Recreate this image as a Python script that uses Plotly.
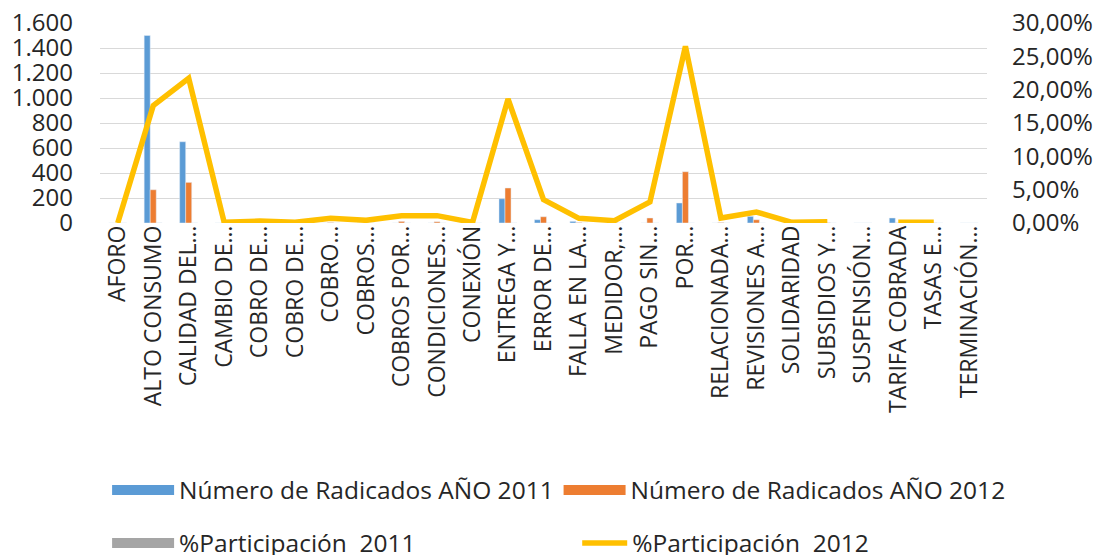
import plotly.graph_objects as go

categories = ["AFORO", "ALTO CONSUMO", "CALIDAD DEL…", "CAMBIO DE…", "COBRO DE…",
              "COBRO DE…", "COBRO…", "COBROS…", "COBROS POR…", "CONDICIONES…",
              "CONEXIÓN", "ENTREGA Y…", "ERROR DE…", "FALLA EN LA…", "MEDIDOR,…",
              "PAGO SIN…", "POR…", "RELACIONADA…", "REVISIONES A…", "SOLIDARIDAD",
              "SUBSIDIOS Y…", "SUSPENSIÓN…", "TARIFA COBRADA", "TASAS E…", "TERMINACIÓN…"]

radicados_2011 = [0, 1500, 650, 0, 0, 0, 0, 0, 0, 0, 0, 194, 26, 13, 0, 0, 160, 0, 53, 0, 0, 0, 40, 0, 0]
radicados_2012 = [0, 266, 325, 2, 4, 2, 4, 3, 13, 10, 1, 280, 50, 4, 3, 40, 410, 4, 26, 1, 2, 0, 1, 1, 0]
participacion_2011 = [0, 0.566, 0.245, 0, 0, 0, 0, 0, 0, 0, 0, 0.073, 0.010, 0.005, 0, 0, 0.060, 0, 0.020, 0, 0, 0, 0.015, 0, 0]
participacion_2012 = [0.0, 0.176, 0.217, 0.001, 0.003, 0.001, 0.007, 0.004, 0.011, 0.011, 0.001,
                      0.186, 0.035, 0.007, 0.0035, 0.0315, 0.265, 0.0075, 0.0165, 0.001, 0.002,
                      None, 0.001, 0.001, None]

series_names = ["Número de Radicados AÑO 2011", "Número de Radicados AÑO 2012",
                "%Participación  2011", "%Participación  2012"]
series_colors = ["#5B9BD5", "#ED7D31", "#A5A5A5", "#FFC000"]

left_ticks = [0, 200, 400, 600, 800, 1000, 1200, 1400, 1600]
right_ticks = [0, 0.05, 0.10, 0.15, 0.20, 0.25, 0.30]

x = list(range(len(categories)))
FONT = "Open Sans"
TXT = "#262626"

fig = go.Figure()
bar_values = [radicados_2011, radicados_2012, participacion_2011]
legend_ids = ["legend", "legend2", "legend3"]
for vals, name, color in zip(bar_values, series_names[:3], series_colors[:3]):
    fig.add_trace(go.Bar(x=x, y=vals, name=name, marker_color=color, showlegend=False))
# wide rectangular legend swatches like the original
for name, color, lg in zip(series_names[:3], series_colors[:3], legend_ids):
    fig.add_trace(go.Scatter(x=[None], y=[None], mode="lines", name=name,
                             line=dict(color=color, width=13), legend=lg, showlegend=True))
fig.add_trace(go.Scatter(x=x, y=participacion_2012, name=series_names[3],
                         mode="lines", line=dict(color=series_colors[3], width=5.5),
                         connectgaps=False, yaxis="y2", legend="legend4", showlegend=True))

legend_common = dict(orientation="h", xanchor="left", yanchor="middle",
                     font=dict(family=FONT, size=24.5, color=TXT),
                     bgcolor="rgba(0,0,0,0)")

fig.update_layout(
    width=1093, height=547,
    margin=dict(l=92, r=114, t=15, b=332, autoexpand=False),
    paper_bgcolor="white", plot_bgcolor="white",
    separators=",.",
    showlegend=True,
    barmode="group", bargap=0.49, bargroupgap=0,
    font=dict(family=FONT, size=23, color=TXT),
    xaxis=dict(tickmode="array", tickvals=x, ticktext=categories, tickangle=-90,
               range=[-0.5, len(categories) - 0.5], showgrid=False, zeroline=False,
               showline=False, ticks="", automargin=False, ticklabelstandoff=-3,
               tickfont=dict(family=FONT, size=23, color=TXT)),
    yaxis=dict(range=[0, 1600], tickmode="array", tickvals=left_ticks, tickformat=",d",
               showgrid=True, gridcolor="#D9D9D9", gridwidth=1.3, zeroline=False,
               showline=False, ticks="", ticklabelstandoff=26, automargin=False,
               ticklabeloverflow="allow",
               tickfont=dict(family=FONT, size=24, color=TXT)),
    yaxis2=dict(range=[0, 0.30], tickmode="array", tickvals=right_ticks, tickformat=".2%",
                overlaying="y", side="right", showgrid=False, zeroline=False,
                showline=False, ticks="", ticklabelstandoff=24, automargin=False,
                ticklabeloverflow="allow",
                tickfont=dict(family=FONT, size=24, color=TXT)),
    legend=dict(x=0.008, y=-1.335, itemwidth=62, **legend_common),
    legend2=dict(x=0.517, y=-1.335, itemwidth=62, **legend_common),
    legend3=dict(x=0.008, y=-1.6, itemwidth=62, **legend_common),
    legend4=dict(x=0.538, y=-1.6, itemwidth=45, **legend_common),
)

fig.write_html("out.html")
